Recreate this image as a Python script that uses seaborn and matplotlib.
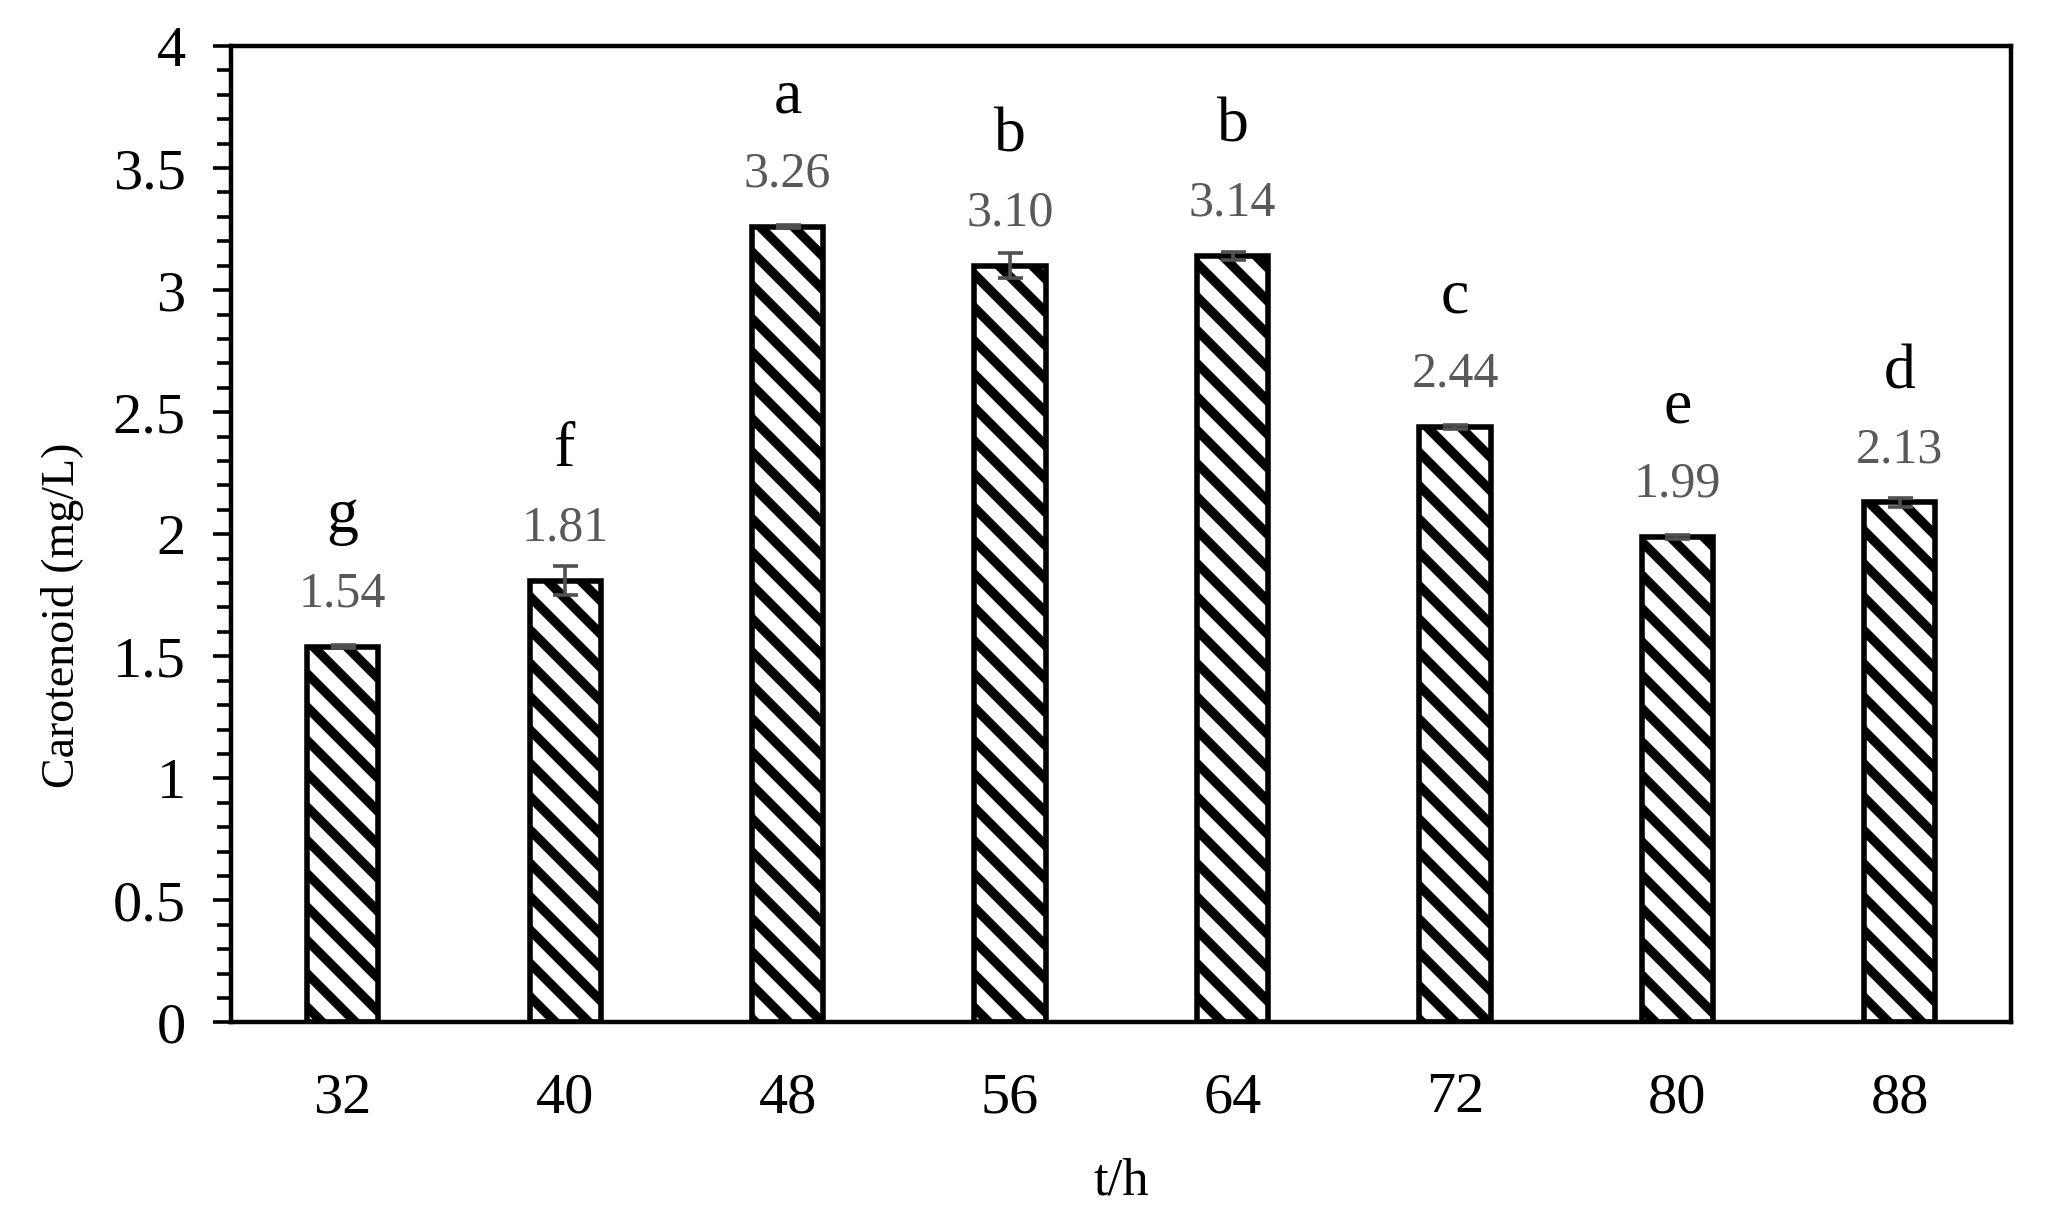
import matplotlib
matplotlib.use("Agg")
import matplotlib.pyplot as plt
import seaborn as sns
from matplotlib.ticker import MultipleLocator, FormatStrFormatter

# data
hours = ["32", "40", "48", "56", "64", "72", "80", "88"]
carotenoid = [1.54, 1.81, 3.26, 3.10, 3.14, 2.44, 1.99, 2.13]
errors = [0.005, 0.06, 0.005, 0.05, 0.015, 0.008, 0.008, 0.02]
value_labels = ["1.54", "1.81", "3.26", "3.10", "3.14", "2.44", "1.99", "2.13"]
letters = ["g", "f", "a", "b", "b", "c", "e", "d"]

sns.set_theme(style="ticks")
plt.rcParams["font.family"] = ["Liberation Serif", "DejaVu Serif"]
plt.rcParams["hatch.linewidth"] = 3.2
for k in ["text.color", "axes.labelcolor", "xtick.color", "ytick.color"]:
    plt.rcParams[k] = "black"

fig = plt.figure(figsize=(10.24, 6.13), dpi=200)
ax = fig.add_axes([0.113, 0.166, 0.869, 0.7965])

sns.barplot(x=hours, y=carotenoid, color="white", edgecolor="black",
            linewidth=2.0, width=0.32, ax=ax, errorbar=None)
for p in ax.patches:
    p.set_hatch("\\\\")
    p.set_facecolor("white")
    if hasattr(p, "set_hatch_linewidth"):
        p.set_hatch_linewidth(3.4)

ax.errorbar(range(len(hours)), carotenoid, yerr=errors, fmt="none",
            ecolor="#505050", elinewidth=1.3, capsize=4.5, capthick=1.3)

for i, v in enumerate(carotenoid):
    ax.text(i, v + 0.215, value_labels[i], ha="center", va="center",
            fontsize=18, color="#595959")
    ax.text(i, v + 0.53, letters[i], ha="center", va="center",
            fontsize=23, color="black")

ax.set_xlim(-0.5, 7.5)
ax.set_ylim(0, 4)
ax.yaxis.set_major_locator(MultipleLocator(0.5))
ax.yaxis.set_minor_locator(MultipleLocator(0.1))
ax.yaxis.set_major_formatter(FormatStrFormatter("%g"))
ax.tick_params(axis="y", which="major", length=6.5, width=1.3,
               labelsize=21, pad=10, direction="out")
ax.tick_params(axis="y", which="minor", length=5, width=1.3, direction="out")
ax.tick_params(axis="x", length=0, labelsize=21, pad=18)

for s in ax.spines.values():
    s.set_visible(True)
    s.set_linewidth(1.6)
    s.set_color("black")

ax.set_xlabel("t/h", fontsize=19, labelpad=12)
ax.set_ylabel("Carotenoid (mg/L)", fontsize=16.5)
ax.yaxis.set_label_coords(-0.083, 0.417)

fig.savefig("out.png", dpi=200)
